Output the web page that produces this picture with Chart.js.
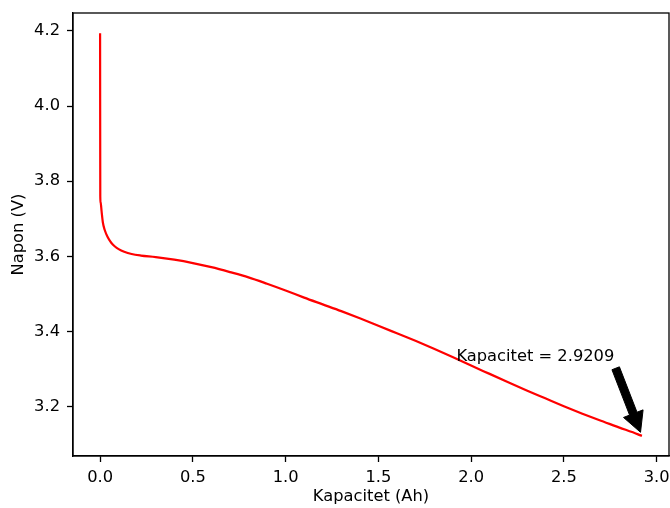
<!DOCTYPE html>
<html>
<head>
<meta charset="utf-8">
<script src="https://cdn.jsdelivr.net/npm/chart.js@4/dist/chart.umd.min.js"></script>
<style>
  body { margin: 0; background: #fff; }
  canvas { display: block; }
</style>
</head>
<body>
<canvas id="discharge-chart" width="670" height="508"></canvas>
<script>
// discharge curve
const capacityAh = [0, 0.001, 0.003, 0.008, 0.015, 0.025, 0.04, 0.06, 0.08, 0.1, 0.13, 0.17, 0.22, 0.3, 0.4, 0.5, 0.6, 0.7, 0.8, 0.9, 1.0, 1.1, 1.2, 1.3, 1.4, 1.5, 1.6, 1.7, 1.8, 1.9, 2.0, 2.1, 2.2, 2.3, 2.4, 2.5, 2.6, 2.7, 2.8, 2.9, 2.9209];
const voltageV = [4.194, 3.76, 3.743, 3.72, 3.69, 3.67, 3.652, 3.636, 3.626, 3.619, 3.612, 3.606, 3.602, 3.598, 3.591, 3.582, 3.571, 3.558, 3.544, 3.527, 3.509, 3.49, 3.472, 3.454, 3.435, 3.415, 3.395, 3.375, 3.354, 3.332, 3.309, 3.287, 3.265, 3.243, 3.222, 3.201, 3.181, 3.162, 3.144, 3.126, 3.122];
const xTicks = [0, 0.5, 1.0, 1.5, 2.0, 2.5, 3.0];
const yTicks = [3.2, 3.4, 3.6, 3.8, 4.0, 4.2];

const font = { family: "DejaVu Sans", size: 16.3 };
const ink = "#000";

// matplotlib style 5% margins
const xMin = Math.min(...capacityAh), xMax = Math.max(...capacityAh);
const yMin = Math.min(...voltageV), yMax = Math.max(...voltageV);
const xPad = (xMax - xMin) * 0.05, yPad = (yMax - yMin) * 0.05;

const lastIdx = capacityAh.length - 1;
const capacity = capacityAh[lastIdx];

// box around the axes + the annotation arrow
const framePlugin = {
  id: "frame",
  afterDatasetsDraw(chart) {
    const { ctx, chartArea: a, scales } = chart;
    ctx.save();
    ctx.strokeStyle = ink;
    ctx.lineWidth = 1.3;
    ctx.strokeRect(a.left, a.top, a.right - a.left, a.bottom - a.top);

    // annotation text, offset from the end point like the original plot
    const tx = scales.x.getPixelForValue(capacity - 1);
    const ty = scales.y.getPixelForValue(voltageV[lastIdx] + 0.2);
    const label = "Kapacitet = " + capacity.toFixed(4);
    ctx.font = font.size + "px " + font.family;
    ctx.fillStyle = ink;
    ctx.textAlign = "left";
    ctx.textBaseline = "alphabetic";
    ctx.fillText(label, tx, ty);

    const m = ctx.measureText(label);
    const sx0 = tx + m.width;
    const sy0 = ty + 4;
    const ex0 = scales.x.getPixelForValue(capacity);
    const ey0 = scales.y.getPixelForValue(voltageV[lastIdx]);
    // shrink 5% at both ends
    const dx = ex0 - sx0, dy = ey0 - sy0;
    const sx = sx0 + dx * 0.05, sy = sy0 + dy * 0.05;
    const ex = ex0 - dx * 0.05, ey = ey0 - dy * 0.05;
    const len = Math.hypot(ex - sx, ey - sy);
    const ux = (ex - sx) / len, uy = (ey - sy) / len;
    const nx = -uy, ny = ux;
    const bw = 4, hw = 10.5, hl = 20;
    const bx = ex - ux * hl, by = ey - uy * hl;
    ctx.beginPath();
    ctx.moveTo(sx + nx * bw, sy + ny * bw);
    ctx.lineTo(bx + nx * bw, by + ny * bw);
    ctx.lineTo(bx + nx * hw, by + ny * hw);
    ctx.lineTo(ex, ey);
    ctx.lineTo(bx - nx * hw, by - ny * hw);
    ctx.lineTo(bx - nx * bw, by - ny * bw);
    ctx.lineTo(sx - nx * bw, sy - ny * bw);
    ctx.closePath();
    ctx.fillStyle = "#000";
    ctx.fill();
    ctx.lineWidth = 1;
    ctx.strokeStyle = "#000";
    ctx.stroke();
    ctx.restore();
  },
};

const dischargeChart = new Chart(document.getElementById("discharge-chart"), {
  type: "line",
  data: {
    datasets: [
      {
        label: "Napon",
        data: capacityAh.map((x, i) => ({ x: x, y: voltageV[i] })),
        borderColor: "#ff0000",
        borderWidth: 2.2,
        pointRadius: 0,
        fill: false,
        cubicInterpolationMode: "monotone",
      },
    ],
  },
  options: {
    responsive: false,
    animation: false,
    layout: { padding: { top: 13, right: 1, left: 0, bottom: 0 } },
    plugins: { legend: { display: false }, tooltip: { enabled: false } },
    scales: {
      x: {
        type: "linear",
        min: xMin - xPad,
        max: xMax + xPad,
        afterBuildTicks: (axis) => { axis.ticks = xTicks.map((v) => ({ value: v })); },
        afterFit: (axis) => {
          axis.height = 52;
          axis.paddingLeft = 0;
          axis.paddingRight = 0;
        },
        ticks: { font: font, color: ink, padding: 6, maxRotation: 0, callback: (v) => v.toFixed(1) },
        grid: { drawOnChartArea: false, drawTicks: true, tickLength: 6, tickWidth: 1.3, color: ink },
        border: { color: ink, width: 1.3 },
        title: { display: true, text: "Kapacitet (Ah)", font: font, color: ink, padding: { top: 0, bottom: 1.5 } },
      },
      y: {
        type: "linear",
        min: yMin - yPad,
        max: yMax + yPad,
        afterBuildTicks: (axis) => { axis.ticks = yTicks.map((v) => ({ value: v })); },
        afterFit: (axis) => {
          axis.width = 73;
          axis.paddingTop = 0;
          axis.paddingBottom = 0;
        },
        ticks: { font: font, color: ink, padding: 7, callback: (v) => v.toFixed(1) },
        grid: { drawOnChartArea: false, drawTicks: true, tickLength: 6, tickWidth: 1.3, color: ink },
        border: { color: ink, width: 1.3 },
        title: { display: true, text: "Napon (V)", font: font, color: ink, padding: { top: 9, bottom: 0 } },
      },
    },
  },
  plugins: [framePlugin],
});
</script>
</body>
</html>
